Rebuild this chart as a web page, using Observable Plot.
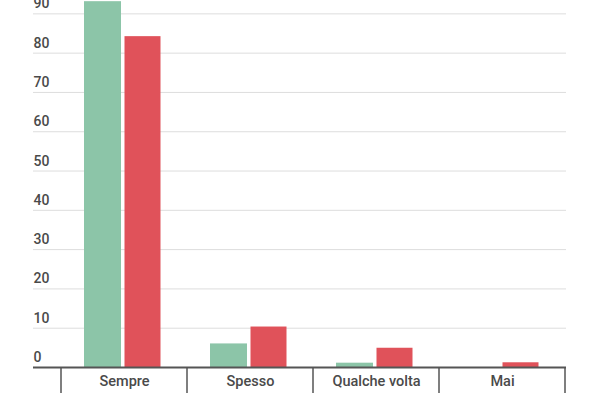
<!DOCTYPE html>
<html>
<head>
<meta charset="utf-8">
<script src="https://cdn.jsdelivr.net/npm/d3@7"></script>
<script src="https://cdn.jsdelivr.net/npm/@observablehq/plot@0.6"></script>
<style>
  html, body { margin: 0; padding: 0; background: #fff; }
  #chart { width: 600px; height: 400px; }
</style>
</head>
<body>
<div id="chart"></div>
<script>
const categories = ["Sempre", "Spesso", "Qualche volta", "Mai"];
const seriesNames = ["Serie 1", "Serie 2"];
const series1 = [93.1, 6.0, 1.1, 0];
const series2 = [84.2, 10.3, 4.9, 1.2];
const yTicks = [0, 10, 20, 30, 40, 50, 60, 70, 80, 90];
const colors = ["#8cc5a8", "#e0525a"];

const data1 = categories.map((c, i) => ({category: c, series: seriesNames[0], value: series1[i]}));
const data2 = categories.map((c, i) => ({category: c, series: seriesNames[1], value: series2[i]}));

const plot = Plot.plot({
  width: 600,
  height: 400,
  marginTop: 0,
  marginBottom: 33,
  marginLeft: 33,
  marginRight: 34,
  style: {fontFamily: "Roboto, sans-serif", fontSize: "14px", fontWeight: 500, color: "#4a4a4a", background: "#fff"},
  x: {domain: categories, paddingInner: 0, paddingOuter: 0, insetLeft: 26, label: null},
  y: {domain: [0, 93.4], ticks: yTicks, label: null},
  color: {domain: seriesNames, range: colors},
  marks: [
    Plot.ruleY(yTicks.filter(t => t > 0), {stroke: "#ddd", strokeWidth: 1}),
    Plot.axisY(yTicks, {anchor: "left", tickSize: 0, tickPadding: 0, textAnchor: "start", dy: -10, fill: "#4a4a4a", fontSize: 14, fontWeight: 500, label: null}),
    Plot.barY(data1, {x: "category", y: "value", fill: "series", insetLeft: 23, insetRight: 66}),
    Plot.barY(data2, {x: "category", y: "value", fill: "series", insetLeft: 63.5, insetRight: 26.5}),
    Plot.ruleY([0], {stroke: "#555", strokeWidth: 2}),
    Plot.axisX({tickSize: 0, tickPadding: 8, fill: "#4a4a4a", fontSize: 14.5, fontWeight: 500, label: null})
  ]
});

document.getElementById("chart").appendChild(plot);

// boundary ticks under the baseline, positioned from the x band scale
const xs = plot.scale("x");
const yScale = plot.scale("y");
const y0 = yScale.apply(0);
const bw = xs.bandwidth;
const edges = categories.map(c => xs.apply(c)).concat([xs.apply(categories[categories.length - 1]) + bw]);
d3.select(plot).append("g")
  .attr("stroke", "#555")
  .attr("stroke-width", 1.5)
  .selectAll("line")
  .data(edges)
  .join("line")
  .attr("x1", d => d).attr("x2", d => d)
  .attr("y1", y0).attr("y2", y0 + 26);
</script>
</body>
</html>
